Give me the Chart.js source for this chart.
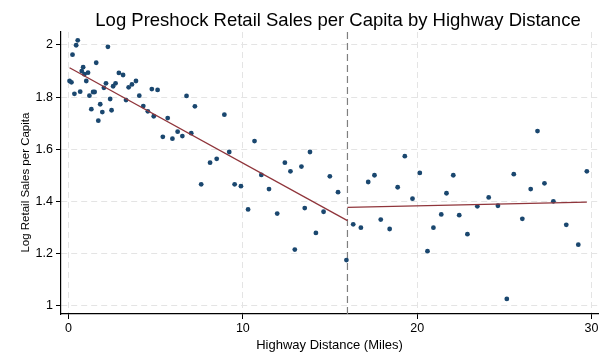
<!DOCTYPE html>
<html>
<head>
<meta charset="utf-8">
<script src="https://cdn.jsdelivr.net/npm/chart.js@4/dist/chart.umd.min.js"></script>
<style>
  html, body { margin: 0; padding: 0; background: #ffffff; }
  #wrap { width: 602px; height: 353px; }
</style>
</head>
<body>
<div id="wrap"><canvas id="c" width="602" height="353"></canvas></div>
<script>
// Binned means: highway distance (miles) and log retail sales per capita
const distance = [
  0.06, 0.17, 0.23, 0.34, 0.44, 0.53, 0.67, 0.76, 0.84, 0.91,
  1.02, 1.12, 1.20, 1.31, 1.41, 1.50, 1.59, 1.71, 1.82, 1.94,
  2.03, 2.15, 2.26, 2.39, 2.47, 2.56, 2.70, 2.89, 3.13, 3.30,
  3.45, 3.64, 3.87, 4.06, 4.29, 4.55, 4.78, 4.89, 5.11, 5.41,
  5.69, 5.96, 6.26, 6.53, 6.77, 7.04, 7.25, 7.61, 8.12, 8.50,
  8.94, 9.22, 9.53, 9.89, 10.30, 10.67, 11.06, 11.50, 11.97, 12.41,
  12.73, 12.98, 13.36, 13.55, 13.85, 14.19, 14.63, 14.99, 15.46, 15.94,
  16.33, 16.77, 17.19, 17.55, 17.91, 18.42, 18.88, 19.29, 19.73, 20.15,
  20.59, 20.93, 21.38, 21.68, 22.07, 22.41, 22.88, 23.45, 24.10, 24.63,
  25.14, 25.54, 26.03, 26.51, 26.90, 27.30, 27.81, 28.55, 29.24, 29.73
];
const logSales = [
  1.862, 1.857, 1.963, 1.813, 1.999, 2.018, 1.821, 1.900, 1.915, 1.888,
  1.862, 1.894, 1.806, 1.754, 1.820, 1.820, 1.932, 1.710, 1.773, 1.743,
  1.836, 1.853, 1.993, 1.793, 1.750, 1.842, 1.853, 1.893, 1.885, 1.789,
  1.838, 1.849, 1.862, 1.806, 1.766, 1.746, 1.831, 1.727, 1.828, 1.648,
  1.720, 1.641, 1.668, 1.651, 1.805, 1.662, 1.765, 1.466, 1.549, 1.564,
  1.733, 1.590, 1.466, 1.459, 1.370, 1.632, 1.502, 1.448, 1.354, 1.549,
  1.516, 1.216, 1.534, 1.375, 1.590, 1.280, 1.361, 1.497, 1.436, 1.176,
  1.313, 1.300, 1.475, 1.501, 1.331, 1.295, 1.455, 1.574, 1.411, 1.510,
  1.210, 1.300, 1.351, 1.432, 1.501, 1.348, 1.275, 1.382, 1.416, 1.384,
  1.027, 1.505, 1.334, 1.448, 1.670, 1.470, 1.401, 1.311, 1.235, 1.516
];

// Linear fits on each side of the cutoff (endpoints)
const fitLeftX = [0.06, 16];
const fitLeftY = [1.913, 1.327];
const fitRightX = [16, 29.73];
const fitRightY = [1.378, 1.398];

const cutoff = 16;

// Axis ticks and ranges
const xTicks = [0, 10, 20, 30];
const xTickLabels = ['0', '10', '20', '30'];
const yTicks = [1, 1.2, 1.4, 1.6, 1.8, 2];
const yTickLabels = ['1', '1.2', '1.4', '1.6', '1.8', '2'];
const xRange = [-0.43, 30.37];
const yRange = [0.9693, 2.0498];

const FONT = '"Liberation Sans", Arial, Helvetica, sans-serif';
const NAVY = '#1a476f';
const MAROON = '#90353b';

const toPoints = (xs, ys) => xs.map((x, i) => ({ x: x, y: ys[i] }));

// Pin axis box sizes so the plot region sits where it should
const fixedAxis = (size, horizontal) => (scale) => {
  if (horizontal) scale.height = size; else scale.width = size;
  scale.paddingLeft = 0; scale.paddingRight = 0;
  scale.paddingTop = 0; scale.paddingBottom = 0;
};

// Title is centred a little right of the canvas middle
const TITLE_LEFT_INSET = 74;
const titleInset = {
  id: 'titleInset',
  afterLayout(chart) {
    if (chart.titleBlock) chart.titleBlock.left += TITLE_LEFT_INSET;
  }
};

new Chart(document.getElementById('c'), {
  type: 'scatter',
  plugins: [titleInset],
  data: {
    datasets: [
      {
        type: 'line',
        data: toPoints(fitLeftX, fitLeftY),
        borderColor: MAROON,
        borderWidth: 1.3,
        pointRadius: 0,
        fill: false,
        order: 0
      },
      {
        type: 'line',
        data: toPoints(fitRightX, fitRightY),
        borderColor: MAROON,
        borderWidth: 1.3,
        pointRadius: 0,
        fill: false,
        order: 0
      },
      {
        type: 'scatter',
        data: toPoints(distance, logSales),
        backgroundColor: NAVY,
        borderColor: NAVY,
        borderWidth: 0,
        pointRadius: 2.4,
        order: 1
      },
      {
        type: 'line',
        data: [{ x: cutoff, y: yRange[0] }, { x: cutoff, y: yRange[1] }],
        borderColor: '#7f7f7f',
        borderWidth: 1.2,
        borderDash: [7, 4],
        pointRadius: 0,
        fill: false,
        order: 2
      }
    ]
  },
  options: {
    responsive: false,
    animation: false,
    devicePixelRatio: 1,
    layout: { padding: { top: 0, left: 0, right: 0, bottom: 0 } },
    plugins: {
      legend: { display: false },
      tooltip: { enabled: false },
      title: {
        display: true,
        text: 'Log Preshock Retail Sales per Capita by Highway Distance',
        color: '#000000',
        font: { family: FONT, size: 18.5, weight: 'normal' },
        padding: { top: 9.5, bottom: 0.3 }
      }
    },
    scales: {
      x: {
        type: 'linear',
        min: xRange[0],
        max: xRange[1],
        afterBuildTicks: (s) => { s.ticks = xTicks.map(v => ({ value: v })); },
        afterFit: fixedAxis(39, true),
        ticks: {
          color: '#000000',
          font: { family: FONT, size: 12.5 },
          padding: 2,
          maxRotation: 0,
          callback: (v) => xTickLabels[xTicks.indexOf(v)]
        },
        grid: {
          color: '#e4e4e4',
          lineWidth: 1,
          drawTicks: true,
          tickLength: 5,
          tickColor: '#000000',
          tickWidth: 1
        },
        border: { display: true, color: '#000000', width: 1.2, dash: [6, 4] },
        title: {
          display: true,
          text: 'Highway Distance (Miles)',
          color: '#000000',
          font: { family: FONT, size: 13 },
          padding: { top: 0, bottom: 0 }
        }
      },
      y: {
        type: 'linear',
        min: yRange[0],
        max: yRange[1],
        afterBuildTicks: (s) => { s.ticks = yTicks.map(v => ({ value: v })); },
        afterFit: fixedAxis(61, false),
        ticks: {
          color: '#000000',
          font: { family: FONT, size: 12.5 },
          padding: 3,
          callback: (v) => yTickLabels[yTicks.indexOf(v)]
        },
        grid: {
          color: '#e4e4e4',
          lineWidth: 1,
          drawTicks: true,
          tickLength: 5,
          tickColor: '#000000',
          tickWidth: 1
        },
        border: { display: true, color: '#000000', width: 1.2, dash: [6, 4] },
        title: {
          display: true,
          text: 'Log Retail Sales per Capita' + '\u00a0'.repeat(6),
          color: '#000000',
          font: { family: FONT, size: 11.5 },
          padding: { top: 19, bottom: 0 }
        }
      }
    }
  }
});
</script>
</body>
</html>
